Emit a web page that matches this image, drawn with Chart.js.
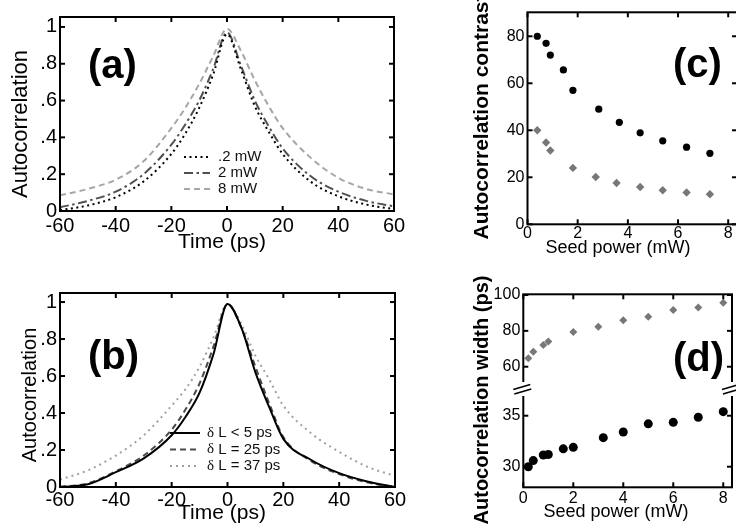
<!DOCTYPE html>
<html lang="en">
<head>
<meta charset="UTF-8">
<title>Autocorrelation vs seed power</title>
<script src="https://cdn.jsdelivr.net/npm/chart.js"></script>
<style>
  html, body { margin: 0; padding: 0; background: #fff; overflow: hidden; }
  body { width: 736px; height: 532px; position: relative; }
  .panel { position: absolute; }
</style>
</head>
<body>
<div class="panel" style="left:0;top:0"><canvas id="chartA" width="420" height="260"></canvas></div>
<div class="panel" style="left:0;top:260px"><canvas id="chartB" width="420" height="272"></canvas></div>
<div class="panel" style="left:460px;top:0"><canvas id="chartC" width="300" height="270"></canvas></div>
<div class="panel" style="left:460px;top:270px"><canvas id="chartD" width="300" height="262"></canvas></div>

<script>
// ---- data ----
const timePs = [-60, -50, -40, -30, -20, -15, -10, -5, 0, 5, 10, 15, 20, 30, 40, 50, 60];

// (a) autocorrelation for different seed powers
const acSeed02 = [0.005, 0.03, 0.075, 0.16, 0.31, 0.42, 0.56, 0.74, 0.96, 0.77, 0.57, 0.43, 0.31, 0.16, 0.08, 0.035, 0.01];
const acSeed2  = [0.02, 0.055, 0.105, 0.2, 0.36, 0.47, 0.6, 0.77, 0.97, 0.79, 0.6, 0.46, 0.34, 0.19, 0.105, 0.055, 0.025];
const acSeed8  = [0.085, 0.12, 0.17, 0.27, 0.45, 0.56, 0.69, 0.84, 0.99, 0.87, 0.71, 0.57, 0.45, 0.29, 0.18, 0.12, 0.09];
const seedLabels = ['.2 mW', '2 mW', '8 mW'];

// (b) autocorrelation for different path mismatch
const acDL5  = [0.0, 0.015, 0.08, 0.155, 0.28, 0.38, 0.51, 0.72, 0.99, 0.86, 0.62, 0.43, 0.26, 0.146, 0.075, 0.03, 0.0];
const acDL25 = [0.0, 0.02, 0.085, 0.17, 0.31, 0.42, 0.56, 0.76, 0.99, 0.86, 0.65, 0.45, 0.27, 0.14, 0.07, 0.025, 0.0];
const acDL37 = [0.04, 0.09, 0.17, 0.28, 0.44, 0.53, 0.65, 0.81, 0.99, 0.88, 0.71, 0.58, 0.44, 0.29, 0.19, 0.11, 0.06];
const dlLabels = ['δ L < 5 ps', 'δ L = 25 ps', 'δ L = 37 ps'];

// (c) contrast vs seed power
const contrastPowerA = [0.39, 0.74, 0.91, 1.43, 1.81, 2.84, 3.66, 4.49, 5.39, 6.34, 7.27];
const contrastA      = [80, 77, 72, 65.7, 57, 49, 43.4, 38.9, 35.5, 32.8, 30.2];
const contrastPowerB = [0.39, 0.74, 0.91, 1.81, 2.72, 3.55, 4.49, 5.39, 6.34, 7.27];
const contrastB      = [40, 34.8, 31.4, 24, 20.1, 17.6, 15.9, 14.5, 13.5, 12.8];

// (d) width vs seed power
const widthPowerA = [0.2, 0.4, 0.8, 1, 1.6, 2, 3.2, 4, 5, 6, 7, 8];
const widthA      = [30.0, 30.6, 31.15, 31.2, 31.75, 31.9, 32.85, 33.4, 34.2, 34.35, 34.85, 35.4];
const widthPowerB = [0.2, 0.4, 0.8, 1, 2, 3, 4, 5, 6, 7, 8];
const widthB      = [64.7, 68.4, 72.1, 74, 79.4, 82.3, 85.9, 87.9, 91.6, 93.1, 95.7];

// tick values / labels
const timeTicks = [-60, -40, -20, 0, 20, 40, 60];
const acTicks = [0, 0.2, 0.4, 0.6, 0.8, 1];
const acTickLabels = ['0', '.2', '.4', '.6', '.8', '1'];
const powerTicks = [0, 2, 4, 6, 8];
const contrastTicks = [0, 20, 40, 60, 80];
const widthHighTicks = [60, 80, 100];
const widthLowTicks = [30, 35];

const FONT = '"Liberation Sans", Arial, Helvetica, sans-serif';
Chart.defaults.font.family = FONT;
Chart.defaults.color = '#000';
Chart.defaults.animation = false;
Chart.defaults.responsive = false;
Chart.defaults.plugins.legend.display = false;
Chart.defaults.plugins.tooltip.enabled = false;

const pts = (xs, ys) => xs.map((x, i) => ({x: x, y: ys[i]}));

function axis(o) {
  return {
    type: 'linear',
    position: o.position,
    min: o.min,
    max: o.max,
    stack: o.stack,
    stackWeight: o.stackWeight,
    grid: {display: false, drawTicks: false},
    border: {display: false},
    afterBuildTicks: s => { s.ticks = o.ticks.map(v => ({value: v})); },
    afterFit: s => { if (o.position === 'bottom') s.height = o.fit; else s.width = o.fit; },
    ticks: {
      font: {size: o.size, lineHeight: 1},
      padding: o.pad,
      color: '#000',
      autoSkip: false,
      maxRotation: 0,
      callback: (v, i) => o.labels ? o.labels[i] : String(v)
    },
    title: {display: false}
  };
}

// box with inward ticks on all four sides, optional axis break
const frame = {
  id: 'frame',
  afterDatasetsDraw(chart, args, opts) {
    const {ctx, chartArea: a, scales} = chart;
    const seg = (x1, y1, x2, y2) => { ctx.beginPath(); ctx.moveTo(x1, y1); ctx.lineTo(x2, y2); ctx.stroke(); };
    ctx.save();
    ctx.strokeStyle = '#000';
    ctx.lineWidth = 2;
    scales.x.ticks.forEach(t => {
      const px = scales.x.getPixelForValue(t.value);
      seg(px, a.bottom, px, a.bottom - 5);
      seg(px, a.top, px, a.top + 5);
    });
    opts.yIds.forEach(id => {
      const s = scales[id];
      s.ticks.forEach(t => {
        const py = s.getPixelForValue(t.value);
        seg(a.left, py, a.left + 5, py);
        seg(a.right, py, a.right - 5, py);
      });
    });
    ctx.strokeRect(a.left, a.top, a.right - a.left, a.bottom - a.top);
    if (opts.breakAt) {
      const by = scales[opts.breakAt].bottom;
      [a.left, a.right].forEach(bx => {
        ctx.fillStyle = '#fff';
        ctx.fillRect(bx - 3, by - 7, 6, 14);
        ctx.lineWidth = 1.6;
        seg(bx - 10, by + 0.5, bx + 7, by - 4.5);
        seg(bx - 9, by + 5, bx + 8, by);
      });
    }
    ctx.restore();
  }
};

// axis titles, panel letters, inset legend
const annotate = {
  id: 'annotate',
  afterDraw(chart, args, opts) {
    const {ctx} = chart;
    ctx.save();
    ctx.fillStyle = '#000';
    ctx.font = 'bold 40px ' + FONT;
    ctx.textBaseline = 'alphabetic';
    ctx.fillText(opts.letter, opts.letterX, opts.letterY);
    (opts.texts || []).forEach(t => {
      ctx.save();
      ctx.translate(t.x, t.y);
      if (t.rot) ctx.rotate(-Math.PI / 2);
      ctx.font = (t.bold ? 'bold ' : '') + t.size + 'px ' + FONT;
      ctx.textAlign = 'center';
      ctx.textBaseline = 'middle';
      ctx.fillText(t.text, 0, 0);
      ctx.restore();
    });
    if (opts.legend) {
      const L = opts.legend;
      chart.data.datasets.forEach((ds, i) => {
        const y = L.y + i * L.row;
        ctx.strokeStyle = ds.borderColor;
        ctx.lineWidth = ds.borderWidth;
        ctx.setLineDash(ds.borderDash || []);
        ctx.beginPath();
        ctx.moveTo(L.x, y);
        ctx.lineTo(L.x + L.len, y);
        ctx.stroke();
        ctx.setLineDash([]);
        ctx.fillStyle = '#111';
        ctx.textBaseline = 'middle';
        let tx = L.x + L.len + L.gap;
        let text = ds.label;
        if (text.startsWith('δ')) {
          ctx.font = L.size + 'px "Liberation Serif", "DejaVu Serif", serif';
          ctx.fillText('δ', tx, y);
          tx += ctx.measureText('δ').width;
          text = text.slice(1);
        }
        ctx.font = L.size + 'px ' + FONT;
        ctx.fillText(text, tx, y);
      });
    }
    ctx.restore();
  }
};

function curve(label, ys, color, dash, width) {
  return {
    label: label,
    data: pts(timePs, ys),
    borderColor: color,
    borderWidth: width || 2,
    borderDash: dash,
    pointRadius: 0,
    fill: false,
    cubicInterpolationMode: 'monotone'
  };
}

// (a)
new Chart(document.getElementById('chartA'), {
  type: 'line',
  data: {datasets: [
    curve(seedLabels[0], acSeed02, '#000', [2, 3.5]),
    curve(seedLabels[1], acSeed2, '#505050', [9, 3.5, 2.5, 3.5]),
    curve(seedLabels[2], acSeed8, '#a6a6a6', [6, 4])
  ]},
  options: {
    layout: {padding: {left: 0, top: 17, right: 26, bottom: 0}},
    scales: {
      x: axis({position: 'bottom', min: -60, max: 60, ticks: timeTicks, size: 20, pad: 5.5, fit: 49}),
      y: axis({position: 'left', min: 0, max: 1.054, ticks: acTicks, labels: acTickLabels, size: 20, pad: 3, fit: 60})
    },
    plugins: {
      frame: {yIds: ['y']},
      annotate: {letter: '(a)', letterX: 88, letterY: 78,
                 texts: [{text: 'Time (ps)', x: 222, y: 242, size: 21},
                         {text: 'Autocorrelation', x: 21, y: 124, size: 22, rot: true}],
                 legend: {x: 184, y: 157, row: 16, len: 26, gap: 8, size: 15}}
    }
  },
  plugins: [frame, annotate]
});

// (b)
new Chart(document.getElementById('chartB'), {
  type: 'line',
  data: {datasets: [
    curve(dlLabels[0], acDL5, '#000', []),
    curve(dlLabels[1], acDL25, '#4a4a4a', [6, 4]),
    curve(dlLabels[2], acDL37, '#a0a0a0', [2, 4])
  ]},
  options: {
    layout: {padding: {left: 0, top: 33, right: 25, bottom: 0}},
    scales: {
      x: axis({position: 'bottom', min: -60, max: 60, ticks: timeTicks, size: 20, pad: 3, fit: 45}),
      y: axis({position: 'left', min: 0, max: 1.049, ticks: acTicks, labels: acTickLabels, size: 20, pad: 3, fit: 60})
    },
    plugins: {
      frame: {yIds: ['y']},
      annotate: {letter: '(b)', letterX: 88, letterY: 109,
                 texts: [{text: 'Time (ps)', x: 222, y: 253, size: 21},
                         {text: 'Autocorrelation', x: 30, y: 135, size: 20, rot: true}],
                 legend: {x: 170, y: 173, row: 16.5, len: 30, gap: 7, size: 15}}
    }
  },
  plugins: [frame, annotate]
});

// (c)
new Chart(document.getElementById('chartC'), {
  type: 'scatter',
  data: {datasets: [
    {label: 'contrast A', data: pts(contrastPowerA, contrastA), pointStyle: 'circle', pointRadius: 3.6,
     backgroundColor: '#000', borderWidth: 0},
    {label: 'contrast B', data: pts(contrastPowerB, contrastB), pointStyle: 'rectRot', pointRadius: 4.2,
     backgroundColor: '#777', borderWidth: 0}
  ]},
  options: {
    layout: {padding: {left: 0, top: 12.3, right: 23, bottom: 0}},
    scales: {
      x: axis({position: 'bottom', min: 0, max: 8.35, ticks: powerTicks, size: 16, pad: 1.5, fit: 45.7}),
      y: axis({position: 'left', min: 0, max: 90.2, ticks: contrastTicks, size: 16, pad: 3, fit: 67.5})
    },
    plugins: {
      frame: {yIds: ['y']},
      annotate: {letter: '(c)', letterX: 213, letterY: 77,
                 texts: [{text: 'Seed power (mW)', x: 158, y: 248, size: 18},
                         {text: 'Autocorrelation contrast', x: 22, y: 117, size: 21, bold: true, rot: true}]}
    }
  },
  plugins: [frame, annotate]
});

// (d) broken y axis: two stacked scales
new Chart(document.getElementById('chartD'), {
  type: 'scatter',
  data: {datasets: [
    {label: 'width A', data: pts(widthPowerA, widthA), yAxisID: 'yLow', pointStyle: 'circle', pointRadius: 4.5,
     backgroundColor: '#000', borderWidth: 0},
    {label: 'width B', data: pts(widthPowerB, widthB), yAxisID: 'yHigh', pointStyle: 'rectRot', pointRadius: 4,
     backgroundColor: '#777', borderWidth: 0}
  ]},
  options: {
    layout: {padding: {left: 0, top: 24.3, right: 28, bottom: 0}},
    scales: {
      x: axis({position: 'bottom', min: 0, max: 8.35, ticks: powerTicks, size: 16, pad: 3.5, fit: 44.7}),
      yLow: axis({position: 'left', stack: 'w', stackWeight: 98.3, min: 27.98, max: 37.62, ticks: widthLowTicks,
                  size: 16, pad: 3, fit: 63.3}),
      yHigh: axis({position: 'left', stack: 'w', stackWeight: 94.7, min: 47.56, max: 100.4, ticks: widthHighTicks,
                   size: 16, pad: 3, fit: 63.3})
    },
    plugins: {
      frame: {yIds: ['yHigh', 'yLow'], breakAt: 'yHigh'},
      annotate: {letter: '(d)', letterX: 213, letterY: 101,
                 texts: [{text: 'Seed power (mW)', x: 156, y: 242, size: 18},
                         {text: 'Autocorrelation width (ps)', x: 22, y: 130, size: 20, bold: true, rot: true}]}
    }
  },
  plugins: [frame, annotate]
});
</script>
</body>
</html>
